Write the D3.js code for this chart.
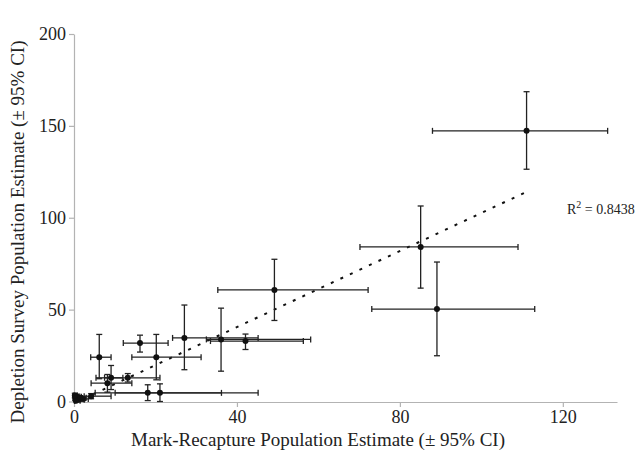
<!DOCTYPE html>
<html><head><meta charset="utf-8">
<script src="https://cdn.jsdelivr.net/npm/d3@7/dist/d3.min.js"></script>
<style>body{margin:0;background:#fff}svg{display:block}</style>
</head><body>
<svg id="c" width="641" height="459"></svg>
<script>
// Mark-recapture estimate (x) with 95% CI, depletion survey estimate (y) with 95% CI
const mrEst = [111.1, 85.1, 89.1, 49.2, 27.1, 36.1, 42.1, 6.2, 16.2, 20.2, 9.1, 13.2, 8.2, 18.1, 21.1, 4.2, 0.3, 0.8, 1.2, 0.5, 1.6, 0.2, 2.2];
const mrLo  = [88.0, 70.2, 73.1, 35.3, 24.2, 32.5, 33.5, 4.1, 12.1, 14.2, 5.4, 7.5, 4.2, 10.1, 5.2, 2.5, 0.0, 0.2, 0.4, 0.1, 0.8, 0.0, 1.0];
const mrHi  = [131.0, 109.0, 113.1, 72.2, 45.2, 58.1, 56.3, 9.1, 23.1, 31.2, 12.0, 21.1, 14.2, 36.2, 45.2, 9.1, 1.2, 1.8, 2.5, 1.5, 3.0, 0.8, 3.5];
const dsEst = [147.3, 84.1, 50.3, 60.7, 34.6, 33.8, 32.9, 24.1, 31.8, 24.1, 12.9, 12.9, 10.0, 4.7, 4.7, 2.9, 1.5, 2.6, 1.0, 0.4, 2.0, 3.2, 1.4];
const dsLo  = [126.4, 61.7, 24.9, 44.1, 17.3, 16.5, 28.3, 12.4, 26.9, 11.8, 6.5, 10.6, 5.1, 0.5, 0.0, 1.5, 0.5, 1.2, 0.2, 0.0, 0.8, 2.0, 0.5];
const dsHi  = [168.6, 106.4, 75.9, 77.4, 52.5, 50.8, 36.7, 36.5, 36.1, 36.5, 19.6, 15.2, 14.7, 9.1, 9.6, 4.3, 2.8, 4.0, 2.0, 1.2, 3.2, 4.5, 2.6];
const xTicks = [0, 40, 80, 120];
const yTicks = [0, 50, 100, 150, 200];
const fitSlope = 1.035, fitIntercept = -0.9, fitRange = [0, 112];
const r2Label = "0.8438";
const xTitle = "Mark-Recapture Population Estimate (\u00B1 95% CI)";
const yTitle = "Depletion Survey Population Estimate (\u00B1 95% CI)";

const data = mrEst.map((x, i) => ({x, xlo: mrLo[i], xhi: mrHi[i], y: dsEst[i], ylo: dsLo[i], yhi: dsHi[i]}));

const svg = d3.select("#c");
const font = "Liberation Serif";
const x = d3.scaleLinear().domain([0, 133.3]).range([74, 617]);
const y = d3.scaleLinear().domain([0, 200]).range([401.5, 34]);
const axisCol = "#b3b3b3", ink = "#222";

// axes
const gx = svg.append("g").attr("transform", `translate(0,${y(0) + 0.5})`)
  .call(d3.axisBottom(x).tickValues(xTicks).tickSize(5).tickSizeOuter(0).tickPadding(3));
const gy = svg.append("g").attr("transform", `translate(${x(0)},0)`)
  .call(d3.axisLeft(y).tickValues(yTicks).tickSize(5).tickSizeOuter(0).tickPadding(3));
[gx, gy].forEach(g => {
  g.attr("font-family", font).attr("font-size", 18);
  g.select(".domain").attr("stroke", axisCol).attr("stroke-width", 1.2);
  g.selectAll(".tick line").attr("stroke", axisCol).attr("stroke-width", 1.2);
  g.selectAll(".tick text").attr("fill", ink);
});

// regression line
svg.append("line")
  .attr("x1", x(fitRange[0])).attr("y1", y(fitSlope * fitRange[0] + fitIntercept))
  .attr("x2", x(fitRange[1])).attr("y2", y(fitSlope * fitRange[1] + fitIntercept))
  .attr("stroke", "#111").attr("stroke-width", 2).attr("stroke-dasharray", "3,7.5");

// error bars
const cap = 3;
const g = svg.append("g").attr("stroke", ink).attr("stroke-width", 1.3).attr("fill", "none");
data.forEach(d => {
  g.append("line").attr("x1", x(d.xlo)).attr("x2", x(d.xhi)).attr("y1", y(d.y)).attr("y2", y(d.y));
  g.append("line").attr("x1", x(d.xlo)).attr("x2", x(d.xlo)).attr("y1", y(d.y) - cap).attr("y2", y(d.y) + cap);
  g.append("line").attr("x1", x(d.xhi)).attr("x2", x(d.xhi)).attr("y1", y(d.y) - cap).attr("y2", y(d.y) + cap);
  g.append("line").attr("x1", x(d.x)).attr("x2", x(d.x)).attr("y1", y(d.ylo)).attr("y2", y(d.yhi));
  g.append("line").attr("x1", x(d.x) - cap).attr("x2", x(d.x) + cap).attr("y1", y(d.ylo)).attr("y2", y(d.ylo));
  g.append("line").attr("x1", x(d.x) - cap).attr("x2", x(d.x) + cap).attr("y1", y(d.yhi)).attr("y2", y(d.yhi));
});
svg.append("g").selectAll("circle").data(data).join("circle")
  .attr("cx", d => x(d.x)).attr("cy", d => y(d.y)).attr("r", 3).attr("fill", "#111");

// R^2 label
const t = svg.append("text").attr("x", 567).attr("y", 214).attr("fill", ink)
  .attr("font-family", font).attr("font-size", 14);
t.append("tspan").text("R");
t.append("tspan").attr("dy", -6).attr("font-size", 10).text("2");
t.append("tspan").attr("dy", 6).text(" = " + r2Label);

// titles
svg.append("text").attr("x", 318).attr("y", 446).attr("text-anchor", "middle").attr("fill", ink)
  .attr("font-family", font).attr("font-size", 19).text(xTitle);
svg.append("text").attr("transform", "translate(24,232) rotate(-90)").attr("text-anchor", "middle").attr("fill", ink)
  .attr("font-family", font).attr("font-size", 19).text(yTitle);
</script>
</body></html>
